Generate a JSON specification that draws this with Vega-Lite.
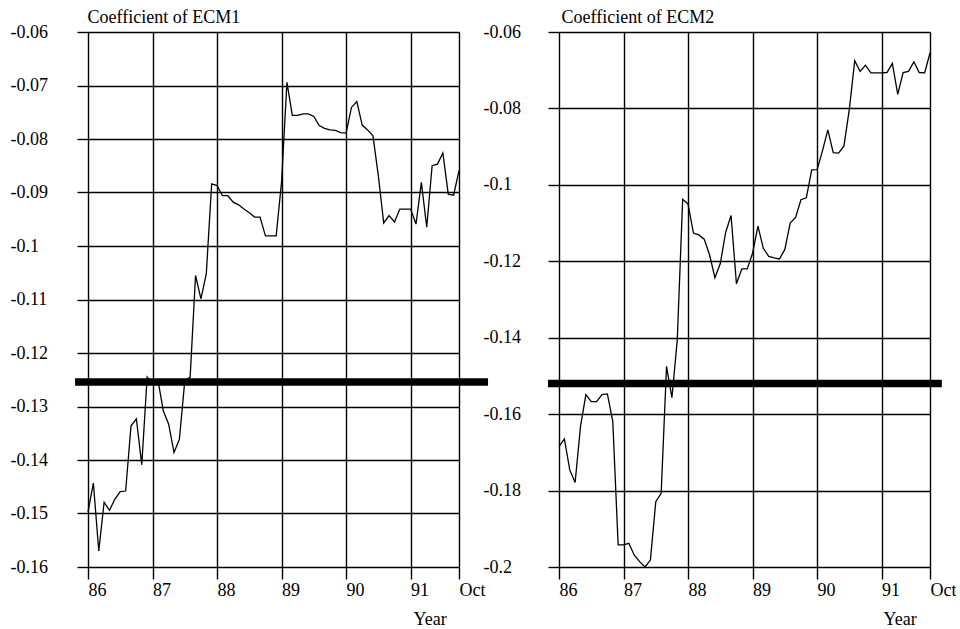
{
  "$schema": "https://vega.github.io/schema/vega-lite/v6.json",
  "background": "white",
  "padding": {"left": 10, "top": 8, "right": 0, "bottom": 0},
  "datasets": {
    "ecm1": [
      {"m": 0, "v": -0.1497}, {"m": 1, "v": -0.1443}, {"m": 2, "v": -0.157}, {"m": 3, "v": -0.1479},
      {"m": 4, "v": -0.1494}, {"m": 5, "v": -0.1473}, {"m": 6, "v": -0.1459}, {"m": 7, "v": -0.1458},
      {"m": 8, "v": -0.1336}, {"m": 9, "v": -0.1323}, {"m": 10, "v": -0.1409}, {"m": 11, "v": -0.1245},
      {"m": 12, "v": -0.1258}, {"m": 13, "v": -0.125}, {"m": 14, "v": -0.1308}, {"m": 15, "v": -0.1333},
      {"m": 16, "v": -0.1386}, {"m": 17, "v": -0.1361}, {"m": 18, "v": -0.1252}, {"m": 19, "v": -0.1245},
      {"m": 20, "v": -0.1055}, {"m": 21, "v": -0.1099}, {"m": 22, "v": -0.1052}, {"m": 23, "v": -0.0884},
      {"m": 24, "v": -0.0887}, {"m": 25, "v": -0.0906}, {"m": 26, "v": -0.0906}, {"m": 27, "v": -0.0918},
      {"m": 28, "v": -0.0923}, {"m": 29, "v": -0.0931}, {"m": 30, "v": -0.0938}, {"m": 31, "v": -0.0946},
      {"m": 32, "v": -0.0946}, {"m": 33, "v": -0.0981}, {"m": 34, "v": -0.0981}, {"m": 35, "v": -0.0981},
      {"m": 36, "v": -0.088}, {"m": 37, "v": -0.0694}, {"m": 38, "v": -0.0756}, {"m": 39, "v": -0.0756},
      {"m": 40, "v": -0.0753}, {"m": 41, "v": -0.0753}, {"m": 42, "v": -0.0758}, {"m": 43, "v": -0.0775},
      {"m": 44, "v": -0.078}, {"m": 45, "v": -0.0783}, {"m": 46, "v": -0.0784}, {"m": 47, "v": -0.0788},
      {"m": 48, "v": -0.0789}, {"m": 49, "v": -0.0741}, {"m": 50, "v": -0.073}, {"m": 51, "v": -0.0774},
      {"m": 52, "v": -0.0783}, {"m": 53, "v": -0.0794}, {"m": 54, "v": -0.0869}, {"m": 55, "v": -0.0957},
      {"m": 56, "v": -0.0943}, {"m": 57, "v": -0.0955}, {"m": 58, "v": -0.0931}, {"m": 59, "v": -0.0931},
      {"m": 60, "v": -0.0931}, {"m": 61, "v": -0.0959}, {"m": 62, "v": -0.0881}, {"m": 63, "v": -0.0965},
      {"m": 64, "v": -0.085}, {"m": 65, "v": -0.0847}, {"m": 66, "v": -0.0826}, {"m": 67, "v": -0.0903},
      {"m": 68, "v": -0.0905}, {"m": 69, "v": -0.0859}
    ],
    "ecm2": [
      {"m": 0, "v": -0.1685}, {"m": 1, "v": -0.1665}, {"m": 2, "v": -0.1746}, {"m": 3, "v": -0.1779},
      {"m": 4, "v": -0.1632}, {"m": 5, "v": -0.1549}, {"m": 6, "v": -0.1567}, {"m": 7, "v": -0.1567},
      {"m": 8, "v": -0.1549}, {"m": 9, "v": -0.1547}, {"m": 10, "v": -0.1619}, {"m": 11, "v": -0.1942},
      {"m": 12, "v": -0.1942}, {"m": 13, "v": -0.1938}, {"m": 14, "v": -0.1969}, {"m": 15, "v": -0.1986},
      {"m": 16, "v": -0.2}, {"m": 17, "v": -0.1982}, {"m": 18, "v": -0.1829}, {"m": 19, "v": -0.1807},
      {"m": 20, "v": -0.1475}, {"m": 21, "v": -0.1557}, {"m": 22, "v": -0.1405}, {"m": 23, "v": -0.1038},
      {"m": 24, "v": -0.105}, {"m": 25, "v": -0.1126}, {"m": 26, "v": -0.1131}, {"m": 27, "v": -0.1142},
      {"m": 28, "v": -0.1183}, {"m": 29, "v": -0.1243}, {"m": 30, "v": -0.1206}, {"m": 31, "v": -0.1124},
      {"m": 32, "v": -0.108}, {"m": 33, "v": -0.1259}, {"m": 34, "v": -0.122}, {"m": 35, "v": -0.122},
      {"m": 36, "v": -0.1179}, {"m": 37, "v": -0.1108}, {"m": 38, "v": -0.1166}, {"m": 39, "v": -0.1187},
      {"m": 40, "v": -0.1191}, {"m": 41, "v": -0.1194}, {"m": 42, "v": -0.1169}, {"m": 43, "v": -0.11},
      {"m": 44, "v": -0.1085}, {"m": 45, "v": -0.1039}, {"m": 46, "v": -0.1034}, {"m": 47, "v": -0.0961},
      {"m": 48, "v": -0.096}, {"m": 49, "v": -0.0911}, {"m": 50, "v": -0.0856}, {"m": 51, "v": -0.0916},
      {"m": 52, "v": -0.0917}, {"m": 53, "v": -0.0898}, {"m": 54, "v": -0.0802}, {"m": 55, "v": -0.0675},
      {"m": 56, "v": -0.0703}, {"m": 57, "v": -0.0687}, {"m": 58, "v": -0.0707}, {"m": 59, "v": -0.0707},
      {"m": 60, "v": -0.0707}, {"m": 61, "v": -0.0706}, {"m": 62, "v": -0.0682}, {"m": 63, "v": -0.0763},
      {"m": 64, "v": -0.0706}, {"m": 65, "v": -0.0703}, {"m": 66, "v": -0.0678}, {"m": 67, "v": -0.0706},
      {"m": 68, "v": -0.0707}, {"m": 69, "v": -0.0655}
    ],
    "band1": [{"level": -0.1254}],
    "band2": [{"level": -0.152}]
  },
  "spacing": 100,
  "bounds": "flush",
  "hconcat": [
    {
      "width": 371,
      "height": 535,
      "layer": [
        {
          "data": {"name": "band1"},
          "mark": {"type": "rule", "color": "black", "strokeWidth": 7.5},
          "encoding": {
            "y": {"field": "level", "type": "quantitative"},
            "x": {"datum": -2.4, "type": "quantitative"},
            "x2": {"datum": 74.4}
          }
        },
        {
          "data": {"name": "ecm1"},
          "mark": {"type": "line", "color": "black", "strokeWidth": 1.3},
          "encoding": {
            "x": {
              "field": "m", "type": "quantitative",
              "scale": {"domain": [0, 69], "nice": false, "zero": false},
              "axis": {
                "values": [0, 12, 24, 36, 48, 60, 69],
                "labelExpr": "datum.value == 69 ? 'Oct' : '' + (86 + datum.value / 12)",
                "labelAlign": "left", "labelBaseline": "top", "labelPadding": 2, "labelDx": 1,
                "labelFlush": false, "labelOverlap": false,
                "tickSize": 12,
                "title": "Year", "titleAlign": "left", "titleBaseline": "alphabetic",
                "titleX": 325, "titleY": 57, "titleAnchor": null
              }
            },
            "y": {
              "field": "v", "type": "quantitative",
              "scale": {"domain": [-0.16, -0.06], "nice": false, "zero": false},
              "axis": {
                "values": [-0.16, -0.15, -0.14, -0.13, -0.12, -0.11, -0.1, -0.09, -0.08, -0.07, -0.06],
                "labelExpr": "'-' + format(-datum.value, '.2~f')",
                "labelAlign": "left", "labelBaseline": "middle", "labelDy": 2, "labelPadding": 67,
                "tickSize": 11,
                "title": "Coefficient of ECM1", "titleAngle": 0, "titleAlign": "left",
                "titleBaseline": "alphabetic", "titleX": -1, "titleY": -10
              }
            }
          }
        }
      ]
    },
    {
      "width": 371,
      "height": 535,
      "layer": [
        {
          "data": {"name": "band2"},
          "mark": {"type": "rule", "color": "black", "strokeWidth": 7.5},
          "encoding": {
            "y": {"field": "level", "type": "quantitative"},
            "x": {"datum": -2.05, "type": "quantitative"},
            "x2": {"datum": 71.2}
          }
        },
        {
          "data": {"name": "ecm2"},
          "mark": {"type": "line", "color": "black", "strokeWidth": 1.3},
          "encoding": {
            "x": {
              "field": "m", "type": "quantitative",
              "scale": {"domain": [0, 69], "nice": false, "zero": false},
              "axis": {
                "values": [0, 12, 24, 36, 48, 60, 69],
                "labelExpr": "datum.value == 69 ? 'Oct' : '' + (86 + datum.value / 12)",
                "labelAlign": "left", "labelBaseline": "top", "labelPadding": 2, "labelDx": 1,
                "labelFlush": false, "labelOverlap": false,
                "tickSize": 12,
                "title": "Year", "titleAlign": "left", "titleBaseline": "alphabetic",
                "titleX": 324, "titleY": 57, "titleAnchor": null
              }
            },
            "y": {
              "field": "v", "type": "quantitative",
              "scale": {"domain": [-0.2, -0.06], "nice": false, "zero": false},
              "axis": {
                "values": [-0.2, -0.18, -0.16, -0.14, -0.12, -0.1, -0.08, -0.06],
                "labelExpr": "'-' + format(-datum.value, '.2~f')",
                "labelAlign": "left", "labelBaseline": "middle", "labelDy": 2, "labelPadding": 65,
                "tickSize": 11,
                "title": "Coefficient of ECM2", "titleAngle": 0, "titleAlign": "left",
                "titleBaseline": "alphabetic", "titleX": 2, "titleY": -10
              }
            }
          }
        }
      ]
    }
  ],
  "config": {
    "view": {"stroke": null},
    "font": "Liberation Serif",
    "axis": {
      "domain": false,
      "grid": true,
      "gridColor": "black",
      "gridOpacity": 1,
      "gridWidth": 1.4,
      "tickColor": "black",
      "tickWidth": 1.4,
      "labelFont": "Liberation Serif",
      "labelFontSize": 18,
      "labelColor": "black",
      "titleFont": "Liberation Serif",
      "titleFontSize": 18,
      "titleFontWeight": "normal",
      "titleColor": "black"
    }
  }
}
